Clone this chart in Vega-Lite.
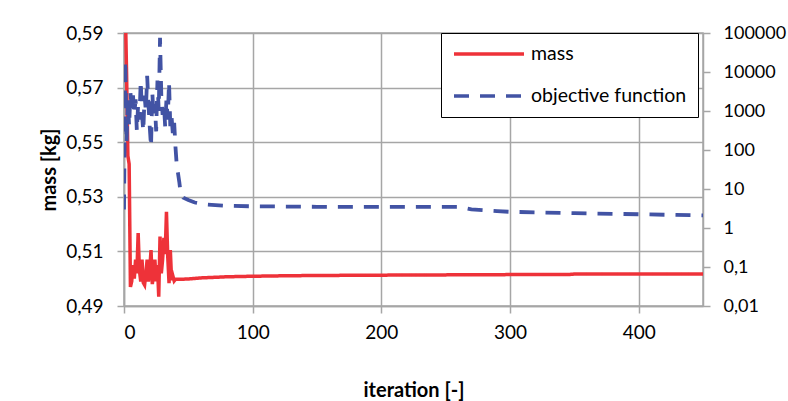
{
  "$schema": "https://vega.github.io/schema/vega-lite/v6.json",
  "width": 579,
  "height": 273,
  "autosize": {"type": "none"},
  "padding": {"left": 124, "top": 33, "right": 85, "bottom": 95},
  "background": "white",
  "config": {
    "font": "Lato",
    "view": {"stroke": "#A6A6A6", "strokeWidth": 1.5},
    "axis": {
      "labelFont": "Lato",
      "labelFontSize": 19,
      "labelColor": "#000000",
      "titleFont": "Lato",
      "titleFontSize": 20,
      "titleFontWeight": "bold",
      "titleColor": "#000000",
      "domainColor": "#A6A6A6",
      "domainWidth": 1.5,
      "tickColor": "#A6A6A6",
      "tickWidth": 1.5,
      "tickSize": 7,
      "gridColor": "#A6A6A6",
      "gridWidth": 1.5
    },
    "legend": {
      "labelFont": "Lato",
      "labelFontSize": 19.5,
      "labelColor": "#000000"
    }
  },
  "datasets": {
    "massData": [
      {"iteration": 0, "mass": 0.62},
      {"iteration": 1, "mass": 0.60},
      {"iteration": 2, "mass": 0.575},
      {"iteration": 3, "mass": 0.545},
      {"iteration": 4, "mass": 0.542},
      {"iteration": 5, "mass": 0.497},
      {"iteration": 6, "mass": 0.499},
      {"iteration": 7, "mass": 0.505},
      {"iteration": 8, "mass": 0.500},
      {"iteration": 9, "mass": 0.507},
      {"iteration": 10, "mass": 0.502},
      {"iteration": 11, "mass": 0.5167},
      {"iteration": 12, "mass": 0.503},
      {"iteration": 13, "mass": 0.499},
      {"iteration": 14, "mass": 0.507},
      {"iteration": 15, "mass": 0.4985},
      {"iteration": 16, "mass": 0.4977},
      {"iteration": 17, "mass": 0.502},
      {"iteration": 18, "mass": 0.507},
      {"iteration": 19, "mass": 0.499},
      {"iteration": 20, "mass": 0.503},
      {"iteration": 21, "mass": 0.5105},
      {"iteration": 22, "mass": 0.498},
      {"iteration": 23, "mass": 0.502},
      {"iteration": 24, "mass": 0.507},
      {"iteration": 25, "mass": 0.499},
      {"iteration": 26, "mass": 0.505},
      {"iteration": 27, "mass": 0.4934},
      {"iteration": 28, "mass": 0.5154},
      {"iteration": 29, "mass": 0.502},
      {"iteration": 30, "mass": 0.507},
      {"iteration": 31, "mass": 0.515},
      {"iteration": 32, "mass": 0.509},
      {"iteration": 33, "mass": 0.5245},
      {"iteration": 34, "mass": 0.508},
      {"iteration": 35, "mass": 0.4984},
      {"iteration": 36, "mass": 0.5105},
      {"iteration": 37, "mass": 0.4995},
      {"iteration": 38, "mass": 0.501},
      {"iteration": 39, "mass": 0.4992},
      {"iteration": 40, "mass": 0.4998},
      {"iteration": 45, "mass": 0.4998},
      {"iteration": 50, "mass": 0.4999},
      {"iteration": 60, "mass": 0.5003},
      {"iteration": 70, "mass": 0.5005},
      {"iteration": 80, "mass": 0.5007},
      {"iteration": 100, "mass": 0.5009},
      {"iteration": 130, "mass": 0.5011},
      {"iteration": 160, "mass": 0.5012},
      {"iteration": 200, "mass": 0.5013},
      {"iteration": 250, "mass": 0.5014},
      {"iteration": 300, "mass": 0.5015},
      {"iteration": 345, "mass": 0.5015},
      {"iteration": 350, "mass": 0.5017},
      {"iteration": 400, "mass": 0.5017},
      {"iteration": 450, "mass": 0.5017}
    ],
    "objData": [
      {"iteration": 0, "objective": 3},
      {"iteration": 1, "objective": 20000},
      {"iteration": 2, "objective": 150},
      {"iteration": 3, "objective": 2000},
      {"iteration": 4, "objective": 400},
      {"iteration": 5, "objective": 3000},
      {"iteration": 6, "objective": 1200},
      {"iteration": 7, "objective": 2500},
      {"iteration": 8, "objective": 800},
      {"iteration": 9, "objective": 2000},
      {"iteration": 10, "objective": 300},
      {"iteration": 11, "objective": 1500},
      {"iteration": 12, "objective": 600},
      {"iteration": 13, "objective": 6000},
      {"iteration": 14, "objective": 800},
      {"iteration": 15, "objective": 300},
      {"iteration": 16, "objective": 2500},
      {"iteration": 17, "objective": 1000},
      {"iteration": 18, "objective": 8000},
      {"iteration": 19, "objective": 1500},
      {"iteration": 20, "objective": 400},
      {"iteration": 21, "objective": 120},
      {"iteration": 22, "objective": 3000},
      {"iteration": 23, "objective": 700},
      {"iteration": 24, "objective": 1500},
      {"iteration": 25, "objective": 300},
      {"iteration": 26, "objective": 6000},
      {"iteration": 27, "objective": 1000},
      {"iteration": 28, "objective": 75000},
      {"iteration": 29, "objective": 2500},
      {"iteration": 30, "objective": 800},
      {"iteration": 31, "objective": 1500},
      {"iteration": 32, "objective": 400},
      {"iteration": 33, "objective": 2000},
      {"iteration": 34, "objective": 600},
      {"iteration": 35, "objective": 5600},
      {"iteration": 36, "objective": 400},
      {"iteration": 37, "objective": 700},
      {"iteration": 38, "objective": 250},
      {"iteration": 39, "objective": 500},
      {"iteration": 40, "objective": 120},
      {"iteration": 41, "objective": 40},
      {"iteration": 42, "objective": 25},
      {"iteration": 43, "objective": 15},
      {"iteration": 44, "objective": 8},
      {"iteration": 46, "objective": 6},
      {"iteration": 50, "objective": 5.2},
      {"iteration": 55, "objective": 4.5},
      {"iteration": 64, "objective": 4.0},
      {"iteration": 80, "objective": 3.7},
      {"iteration": 100, "objective": 3.6},
      {"iteration": 150, "objective": 3.5},
      {"iteration": 200, "objective": 3.5},
      {"iteration": 260, "objective": 3.5},
      {"iteration": 270, "objective": 3.0},
      {"iteration": 290, "objective": 2.7},
      {"iteration": 300, "objective": 2.6},
      {"iteration": 350, "objective": 2.4},
      {"iteration": 400, "objective": 2.25},
      {"iteration": 450, "objective": 2.1}
    ]
  },
  "layer": [
    {
      "data": {"name": "massData"},
      "mark": {"type": "line", "strokeWidth": 3.5, "clip": true},
      "encoding": {
        "x": {
          "field": "iteration",
          "type": "quantitative",
          "scale": {"domain": [0, 450], "nice": false},
          "axis": {
            "values": [0, 100, 200, 300, 400],
            "title": "iteration [-]",
            "grid": true,
            "labelPadding": 10,
            "titlePadding": 38
          }
        },
        "y": {
          "field": "mass",
          "type": "quantitative",
          "scale": {"domain": [0.49, 0.59], "nice": false, "zero": false},
          "axis": {
            "orient": "left",
            "values": [0.49, 0.51, 0.53, 0.55, 0.57, 0.59],
            "labelExpr": "replace(format(datum.value, '.2f'), '.', ',')",
            "title": "mass [kg]",
            "grid": true,
            "labelPadding": 14,
            "titlePadding": 6
          }
        },
        "color": {
          "datum": "mass",
          "type": "nominal",
          "scale": {"domain": ["mass", "objective function"], "range": ["#EE3239", "#4253A4"]},
          "legend": {
            "title": null,
            "orient": "none",
            "legendX": 317,
            "legendY": 0,
            "symbolType": "stroke",
            "symbolSize": 4900,
            "symbolStrokeWidth": 3.5,
            "clipHeight": 20,
            "rowPadding": 22,
            "labelOffset": 5,
            "padding": 11,
            "fillColor": "white",
            "strokeColor": "#000000"
          }
        },
        "strokeDash": {
          "datum": "mass",
          "type": "nominal",
          "scale": {"domain": ["mass", "objective function"], "range": [[1, 0], [15, 11]]},
          "legend": {
            "title": null,
            "orient": "none",
            "legendX": 317,
            "legendY": 0,
            "symbolType": "stroke",
            "symbolSize": 4900,
            "symbolStrokeWidth": 3.5,
            "clipHeight": 20,
            "rowPadding": 22,
            "labelOffset": 5,
            "padding": 11,
            "fillColor": "white",
            "strokeColor": "#000000"
          }
        }
      }
    },
    {
      "data": {"name": "objData"},
      "mark": {"type": "line", "strokeWidth": 3.8, "clip": true},
      "encoding": {
        "x": {"field": "iteration", "type": "quantitative"},
        "y": {
          "field": "objective",
          "type": "quantitative",
          "scale": {"type": "log", "domain": [0.01, 100000], "nice": false},
          "axis": {
            "orient": "right",
            "values": [0.01, 0.1, 1, 10, 100, 1000, 10000, 100000],
            "labelExpr": "datum.value < 1 ? replace(format(datum.value, '.2~f'), '.', ',') : format(datum.value, 'd')",
            "title": null,
            "grid": false,
            "labelFontSize": 18,
            "labelPadding": 13
          }
        },
        "color": {"datum": "objective function", "type": "nominal"},
        "strokeDash": {"datum": "objective function", "type": "nominal"}
      }
    }
  ],
  "resolve": {"scale": {"y": "independent"}}
}
